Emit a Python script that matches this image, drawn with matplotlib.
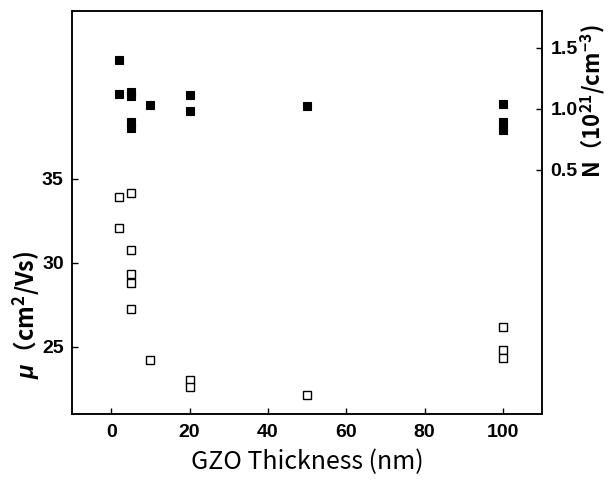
import matplotlib
matplotlib.use('Agg')
import matplotlib.pyplot as plt
from matplotlib import font_manager

# mobility (open squares, left axis)
thick_mu = [2, 2, 5, 5, 5, 5, 5, 10, 20, 20, 50, 100, 100, 100]
mobility = [33.95, 32.08, 34.18, 30.79, 29.35, 28.83, 27.24, 24.24, 23.02, 22.60, 22.14, 26.17, 24.80, 24.33]

# carrier density (filled squares, right axis), 10^21 /cm^3
thick_n = [2, 2, 5, 5, 5, 5, 10, 20, 20, 50, 100, 100, 100]
carrier = [1.40, 1.12, 1.135, 1.10, 0.89, 0.84, 1.03, 1.11, 0.985, 1.02, 1.04, 0.89, 0.825]

x_ticks = [0, 20, 40, 60, 80, 100]
mu_ticks = [25, 30, 35]
n_ticks = [0.5, 1.0, 1.5]

names = {f.name for f in font_manager.fontManager.ttflist}
tick_font = 'Liberation Sans Narrow' if 'Liberation Sans Narrow' in names else 'Liberation Sans'

plt.rcParams['font.family'] = [tick_font, 'Noto Sans CJK JP', 'DejaVu Sans']
plt.rcParams['font.weight'] = 'bold'
plt.rcParams['mathtext.fontset'] = 'custom'
plt.rcParams['mathtext.it'] = 'Liberation Sans:italic:bold'
plt.rcParams['mathtext.rm'] = 'Liberation Sans:bold'

fig = plt.figure(figsize=(6.11, 4.8), dpi=100)
ax = fig.add_axes([72/611, 66/480, 470/611, 403/480])
ax2 = ax.twinx()

ax.plot(thick_mu, mobility, 's', ms=5.2, mfc='white', mec='black', mew=1.0)
ax2.plot(thick_n, carrier, 's', ms=5.2, mfc='black', mec='black', mew=0.8)

ax.set_xlim(-10, 110)
ax.set_ylim(21, 45)
ax2.set_ylim(-1.5, 1.8)
ax.set_xticks(x_ticks)
ax.set_yticks(mu_ticks)
ax2.set_yticks(n_ticks)

for a in (ax, ax2):
    for s in a.spines.values():
        s.set_linewidth(1.1)
ax.tick_params(axis='both', direction='in', length=4.5, width=1.0, labelsize=14, pad=6)
ax.tick_params(axis='x', pad=7)
ax2.tick_params(axis='y', direction='in', length=4.5, width=1.0, labelsize=14, pad=6)

ax.set_xlabel('GZO Thickness (nm)', fontsize=18, fontweight='normal',
              family=['Noto Sans CJK JP'], labelpad=6)

ax.set_ylabel('$\\mu$（cm$^{\\mathdefault{2}}$/Vs)', fontsize=17, fontweight='bold',
              family=['Noto Sans CJK JP'])
ax.yaxis.set_label_coords(-0.064, 0.246)
ax2.set_ylabel('N（10$^{\\mathdefault{21}}$/cm$^{\\mathdefault{−3}}$)', fontsize=16,
               fontweight='bold', family=['Noto Sans CJK JP'])
ax2.yaxis.set_label_coords(1.077, 0.777)

fig.savefig('out.png', dpi=100)
